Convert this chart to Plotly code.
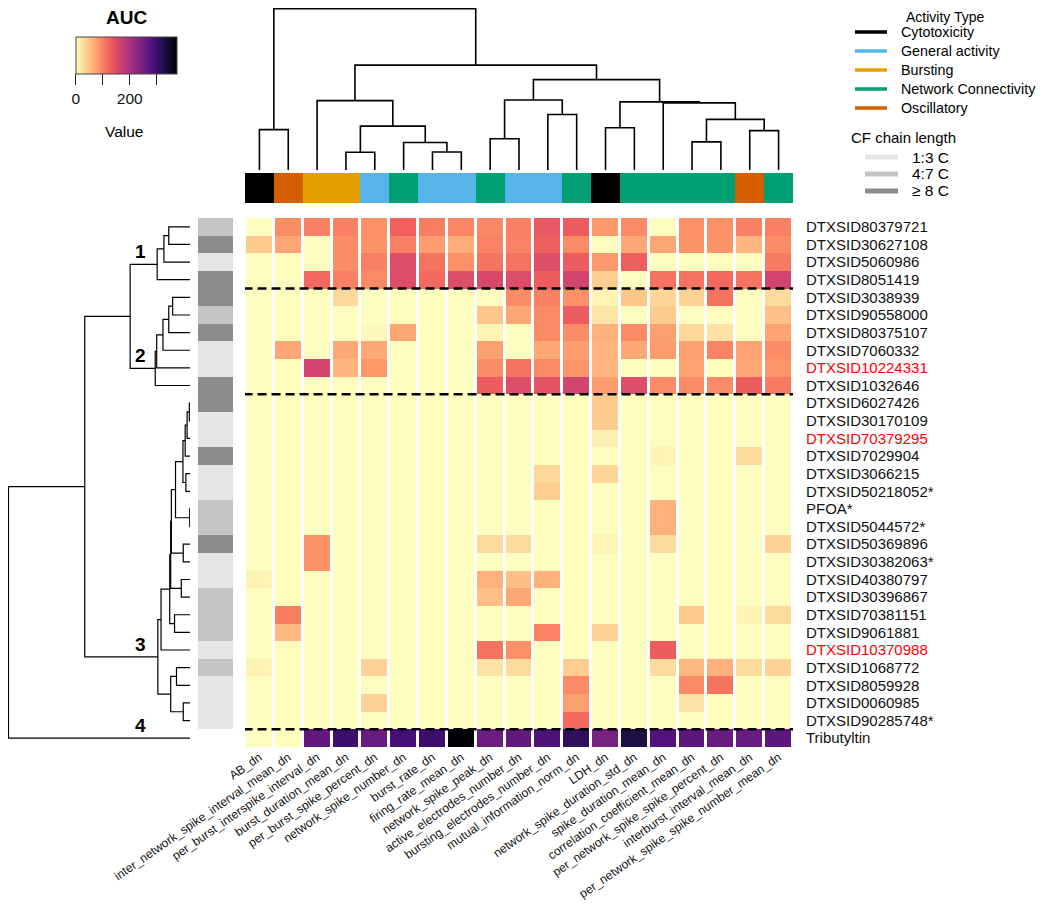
import plotly.graph_objects as go

# ---- data -------------------------------------------------------------
compounds = [
    "DTXSID80379721", "DTXSID30627108", "DTXSID5060986", "DTXSID8051419",
    "DTXSID3038939", "DTXSID90558000", "DTXSID80375107", "DTXSID7060332",
    "DTXSID10224331", "DTXSID1032646", "DTXSID6027426", "DTXSID30170109",
    "DTXSID70379295", "DTXSID7029904", "DTXSID3066215", "DTXSID50218052*",
    "PFOA*", "DTXSID5044572*", "DTXSID50369896", "DTXSID30382063*",
    "DTXSID40380797", "DTXSID30396867", "DTXSID70381151", "DTXSID9061881",
    "DTXSID10370988", "DTXSID1068772", "DTXSID8059928", "DTXSID0060985",
    "DTXSID90285748*", "Tributyltin",
]
red_labels = ["DTXSID10224331", "DTXSID70379295", "DTXSID10370988"]

endpoints = [
    "AB_dn", "inter_network_spike_interval_mean_dn", "per_burst_interspike_interval_dn",
    "burst_duration_mean_dn", "per_burst_spike_percent_dn", "network_spike_number_dn",
    "burst_rate_dn", "firing_rate_mean_dn", "network_spike_peak_dn",
    "active_electrodes_number_dn", "bursting_electrodes_number_dn",
    "mutual_information_norm_dn", "LDH_dn", "network_spike_duration_std_dn",
    "spike_duration_mean_dn", "correlation_coefficient_mean_dn",
    "per_network_spike_spike_percent_dn", "interburst_interval_mean_dn",
    "per_network_spike_spike_number_mean_dn",
]
activity = [
    "Cytotoxicity", "Oscillatory", "Bursting", "Bursting", "General activity",
    "Network Connectivity", "General activity", "General activity", "Network Connectivity",
    "General activity", "General activity", "Network Connectivity", "Cytotoxicity",
    "Network Connectivity", "Network Connectivity", "Network Connectivity",
    "Network Connectivity", "Oscillatory", "Network Connectivity",
]
activity_types = ["Cytotoxicity", "General activity", "Bursting", "Network Connectivity", "Oscillatory"]
activity_colors = ["#000000", "#56B4E9", "#E69F00", "#009E73", "#D55E00"]

chain = [
    "4:7 C", "≥ 8 C", "1:3 C", "≥ 8 C", "≥ 8 C", "4:7 C", "≥ 8 C", "1:3 C", "1:3 C", "≥ 8 C",
    "≥ 8 C", "1:3 C", "1:3 C", "≥ 8 C", "1:3 C", "1:3 C", "4:7 C", "4:7 C", "≥ 8 C", "1:3 C",
    "1:3 C", "4:7 C", "4:7 C", "4:7 C", "1:3 C", "4:7 C", "1:3 C", "1:3 C", "1:3 C", None,
]
chain_levels = ["1:3 C", "4:7 C", "≥ 8 C"]
chain_colors = ["#E5E5E5", "#C4C4C4", "#8C8C8C"]

auc = [
    [0, 90, 100, 100, 88, 125, 102, 95, 95, 100, 135, 130, 80, 92, 0, 88, 88, 100, 100],
    [42, 70, 0, 90, 85, 100, 78, 65, 98, 98, 127, 92, 0, 70, 70, 85, 85, 58, 90],
    [0, 0, 0, 90, 100, 150, 110, 88, 110, 110, 148, 130, 80, 127, 0, 0, 0, 0, 105],
    [0, 0, 118, 100, 92, 150, 118, 148, 155, 150, 130, 162, 38, 0, 110, 110, 118, 110, 162],
    [0, 0, 0, 30, 0, 0, 0, 0, 0, 92, 100, 88, 8, 45, 32, 35, 110, 0, 28],
    [0, 0, 0, 0, 0, 0, 0, 0, 45, 70, 92, 130, 20, 0, 40, 0, 0, 0, 50],
    [0, 0, 0, 0, 4, 70, 0, 0, 8, 0, 92, 92, 62, 92, 75, 30, 22, 0, 72],
    [0, 70, 0, 68, 68, 0, 0, 0, 75, 0, 68, 78, 58, 68, 78, 75, 97, 72, 90],
    [0, 0, 160, 58, 82, 0, 0, 0, 90, 110, 92, 84, 58, 0, 0, 72, 0, 70, 84],
    [0, 0, 0, 0, 0, 0, 0, 0, 130, 148, 140, 162, 78, 148, 92, 92, 92, 130, 105],
    [0, 0, 0, 0, 0, 0, 0, 0, 0, 0, 0, 0, 42, 0, 0, 0, 0, 0, 0],
    [0, 0, 0, 0, 0, 0, 0, 0, 0, 0, 0, 0, 40, 0, 0, 0, 0, 0, 0],
    [0, 0, 0, 0, 0, 0, 0, 0, 0, 0, 0, 0, 10, 0, 0, 0, 0, 0, 0],
    [0, 0, 0, 0, 0, 0, 0, 0, 0, 0, 0, 0, 0, 0, 8, 0, 0, 28, 0],
    [0, 0, 0, 0, 0, 0, 0, 0, 0, 0, 30, 0, 32, 0, 0, 0, 0, 0, 0],
    [0, 0, 0, 0, 0, 0, 0, 0, 0, 0, 38, 0, 0, 0, 0, 0, 0, 0, 0],
    [0, 0, 0, 0, 0, 0, 0, 0, 0, 0, 0, 0, 0, 0, 62, 0, 0, 0, 0],
    [0, 0, 0, 0, 0, 0, 0, 0, 0, 0, 0, 0, 0, 0, 62, 0, 0, 0, 0],
    [0, 0, 85, 0, 0, 0, 0, 0, 28, 28, 0, 0, 8, 0, 28, 0, 0, 0, 35],
    [0, 0, 85, 0, 0, 0, 0, 0, 0, 0, 0, 0, 0, 0, 0, 0, 0, 0, 0],
    [8, 0, 0, 0, 0, 0, 0, 0, 62, 50, 62, 0, 0, 0, 0, 0, 0, 0, 0],
    [0, 0, 0, 0, 0, 0, 0, 0, 50, 70, 0, 0, 0, 0, 0, 0, 0, 0, 0],
    [0, 102, 0, 0, 0, 0, 0, 0, 0, 0, 0, 0, 0, 0, 0, 42, 0, 8, 28],
    [0, 55, 0, 0, 0, 0, 0, 0, 0, 0, 98, 0, 35, 0, 0, 0, 0, 0, 0],
    [0, 0, 0, 0, 0, 0, 0, 0, 110, 88, 0, 0, 0, 0, 130, 0, 0, 0, 0],
    [8, 0, 0, 0, 35, 0, 0, 0, 22, 28, 0, 38, 0, 0, 28, 55, 62, 28, 35],
    [0, 0, 0, 0, 0, 0, 0, 0, 0, 0, 0, 92, 0, 0, 0, 92, 110, 0, 0],
    [0, 0, 0, 0, 35, 0, 0, 0, 0, 0, 0, 75, 0, 0, 0, 22, 0, 0, 0],
    [0, 0, 0, 0, 0, 0, 0, 0, 0, 0, 0, 118, 0, 0, 0, 0, 0, 0, 0],
    [0, 0, 265, 300, 258, 292, 300, 375, 255, 265, 285, 310, 245, 330, 280, 270, 258, 258, 270],
]

# hierarchical clustering merges: (child a, child b, height); leaves 0..n-1, node n+k = k-th merge
row_merges = [
    (0, 1, 2.2), (30, 2, 2.7), (31, 3, 3.4),
    (4, 5, 1.8), (33, 6, 2.2), (34, 7, 2.8), (35, 8, 3.45), (36, 9, 3.6),
    (32, 37, 6.2),
    (10, 11, 0.07), (39, 12, 0.3), (40, 13, 0.5), (14, 15, 0.43), (41, 42, 0.73),
    (16, 17, 0.03), (43, 44, 1.5), (18, 19, 0.7), (45, 46, 1.93), (20, 21, 0.9),
    (47, 48, 2.0), (22, 23, 1.6), (49, 50, 2.1), (51, 24, 3.0),
    (25, 26, 1.4), (27, 28, 0.7), (53, 54, 2.0), (52, 55, 3.33),
    (38, 56, 10.9), (57, 29, 18.8),
]
row_cluster_sizes = [4, 6, 19, 1]

col_merges = [
    (0, 1, 1.25), (3, 4, 0.55), (6, 7, 0.56), (5, 21, 0.85), (20, 22, 1.36),
    (2, 23, 2.15), (8, 9, 0.97), (10, 11, 1.72), (25, 26, 2.17), (12, 13, 1.31),
    (15, 16, 0.87), (17, 18, 1.22), (29, 30, 1.57), (14, 31, 2.08), (28, 32, 2.11),
    (27, 33, 2.8), (24, 34, 3.25), (19, 35, 5.0),
]


def dendrogram(merges, n):
    pos = [float(i) for i in range(n)]
    hgt = [0.0] * n
    span = [(i, i) for i in range(n)]
    along, height = [], []
    for a, b, h in merges:
        along += [pos[a], pos[a], pos[b], pos[b], None]
        height += [hgt[a], h, h, hgt[b], None]
        pos.append((pos[a] + pos[b]) / 2)
        hgt.append(h)
        span.append((min(span[a][0], span[b][0]), max(span[a][1], span[b][1])))
    return along, height, pos, span


def discrete_scale(colors):
    k = len(colors)
    scale = []
    for i, c in enumerate(colors):
        scale.append([max(0, (i - 0.5) / (k - 1)), c])
        scale.append([min(1, (i + 0.5) / (k - 1)), c])
    return scale


# the page adds an 8px body margin, so the figure is laid out in window pixels minus 8
OFF = 8
W, H = 1050 - OFF, 905 - OFF
FONT = "Liberation Sans, Arial, sans-serif"
n_rows, n_cols = len(compounds), len(endpoints)


def px_x(x):
    return min(1, max(0, (x - OFF) / W))


def px_y(y):
    return min(1, max(0, 1 - (y - OFF) / H))


def label(x, y, text, size, anchor="left", **kw):
    return dict(x=px_x(x), y=px_y(y), xref="paper", yref="paper", text=text, showarrow=False,
                xanchor=anchor, yanchor="middle", font=dict(size=size, color="black", family=FONT), **kw)


fig = go.Figure()

# main heatmap
fig.add_trace(go.Heatmap(
    z=auc, x=list(range(n_cols)), y=list(range(n_rows)),
    colorscale="magma", reversescale=True, zmin=0, zmax=375,
    xgap=3, ygap=0, xaxis="x", yaxis="y",
    colorbar=dict(
        orientation="h", x=px_x(126.4), xanchor="center", y=px_y(37), yanchor="top",
        len=101 / W, lenmode="fraction", thickness=37, thicknessmode="pixels",
        xpad=0, ypad=0, outlinewidth=1, outlinecolor="#444",
        tickvals=[0, 100, 200, 300], ticktext=["0", "", "200", ""],
        ticks="outside", ticklen=11, tickwidth=1.3, tickcolor="#222",
        tickfont=dict(size=15.5, color="#111", family=FONT),
    ),
))

# column annotation bar
fig.add_trace(go.Heatmap(
    z=[[activity_types.index(a) for a in activity]], x=list(range(n_cols)), y=[0],
    colorscale=discrete_scale(activity_colors), zmin=0, zmax=len(activity_types) - 1,
    showscale=False, xaxis="x", yaxis="y3", hoverinfo="skip",
))

# row annotation bar
fig.add_trace(go.Heatmap(
    z=[[chain_levels.index(c) if c else None] for c in chain], x=[0], y=list(range(n_rows)),
    colorscale=discrete_scale(chain_colors), zmin=0, zmax=len(chain_levels) - 1,
    showscale=False, xaxis="x3", yaxis="y", hoverinfo="skip",
))

# column dendrogram
cx, ch, _, _ = dendrogram(col_merges, n_cols)
fig.add_trace(go.Scatter(x=cx, y=ch, mode="lines", line=dict(color="black", width=1.6),
                         xaxis="x", yaxis="y2", hoverinfo="skip", showlegend=False))

# row dendrogram
ry, rh, rpos, rspan = dendrogram(row_merges, n_rows)
fig.add_trace(go.Scatter(x=rh, y=ry, mode="lines", line=dict(color="black", width=1.2),
                         xaxis="x2", yaxis="y", hoverinfo="skip", showlegend=False))

# cluster numbers and dashed separators
annotations = []
shapes = []
start = 0
for i, size in enumerate(row_cluster_sizes):
    end = start + size - 1
    node = rspan.index((start, end))
    annotations.append(dict(x=5.1, y=rpos[node], xref="x2", yref="y", text=f"<b>{i + 1}</b>",
                            showarrow=False, xanchor="center", yanchor="bottom", yshift=0,
                            font=dict(size=19, color="black", family=FONT)))
    if end < n_rows - 1:
        shapes.append(dict(type="line", xref="x", yref="y", x0=-0.55, x1=n_cols - 0.45,
                           y0=end + 0.5, y1=end + 0.5,
                           line=dict(color="black", width=2.5, dash="9px,5px")))
    start = end + 1

# colorbar title and label
annotations.append(label(126, 18, "<b>AUC</b>", 19, "center"))
annotations.append(label(124, 131, "Value", 15.5, "center"))

# Activity Type legend
annotations.append(dict(x=px_x(905), y=1, xref="paper", yref="paper", text="Activity Type",
                        showarrow=False, xanchor="left", yanchor="top", borderpad=0,
                        font=dict(size=14, color="black", family=FONT)))
for i, (name, col) in enumerate(zip(activity_types, activity_colors)):
    yy = 32 + 19 * i
    shapes.append(dict(type="line", xref="paper", yref="paper", x0=px_x(855), x1=px_x(887),
                       y0=px_y(yy), y1=px_y(yy), line=dict(color=col, width=3.5)))
    annotations.append(label(899, yy, name, 14.3))

# CF chain length legend
annotations.append(label(849, 137, "CF chain length", 15))
for i, (name, col) in enumerate(zip(chain_levels, chain_colors)):
    yy = 157 + 17 * i
    shapes.append(dict(type="line", xref="paper", yref="paper", x0=px_x(865), x1=px_x(898),
                       y0=px_y(yy), y1=px_y(yy), line=dict(color=col, width=5)))
    annotations.append(label(910, yy, name, 15.5))

row_text = [f'<span style="color:#ff0000">{c}</span>' if c in red_labels else c for c in compounds]

hidden = dict(showgrid=False, zeroline=False, showticklabels=False, ticks="", showline=False)

fig.update_layout(
    width=W, height=H,
    margin=dict(l=0, r=0, t=0, b=0),
    paper_bgcolor="white", plot_bgcolor="white",
    font=dict(family=FONT, color="black"),
    showlegend=False,
    xaxis=dict(domain=[px_x(245), px_x(793)], range=[-0.5, n_cols - 0.5], anchor="y",
               tickvals=list(range(n_cols)), ticktext=endpoints, tickangle=-35,
               tickfont=dict(size=12.2, color="#111"), showgrid=False, zeroline=False,
               ticks="", automargin=False),
    yaxis=dict(domain=[px_y(747), px_y(218)], range=[n_rows - 0.5, -0.5], anchor="x", side="right",
               tickvals=list(range(n_rows)), ticktext=row_text, ticklabelstandoff=12,
               tickfont=dict(size=15, color="#111"), showgrid=False, zeroline=False,
               ticks="", automargin=False),
    yaxis2=dict(domain=[px_y(170), px_y(3)], range=[0, 5.02], anchor="x", **hidden),
    yaxis3=dict(domain=[px_y(203), px_y(173)], range=[-0.5, 0.5], anchor="x", **hidden),
    xaxis2=dict(domain=[px_x(2), px_x(190)], range=[18.85, 0], anchor="y", **hidden),
    xaxis3=dict(domain=[px_x(198), px_x(233)], range=[-0.5, 0.5], anchor="y", **hidden),
    annotations=annotations,
    shapes=shapes,
)

fig.write_html("out.html")
